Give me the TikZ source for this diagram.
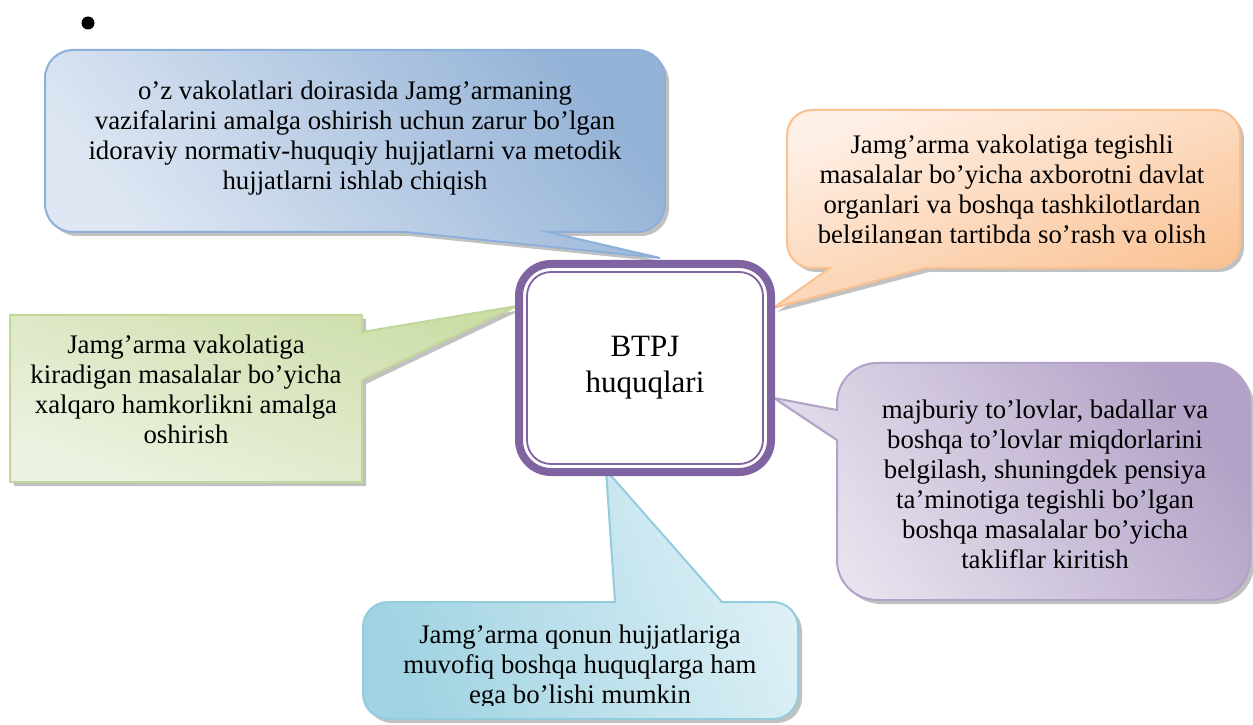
\documentclass[tikz,border=0pt]{standalone}
\usepackage{fontspec}
\setmainfont{Liberation Serif}
\definecolor{bluedark}{RGB}{149,179,215}
\definecolor{bluelight}{RGB}{222,231,243}
\definecolor{blueline}{RGB}{141,176,219}
\definecolor{orangedark}{RGB}{250,193,146}
\definecolor{orangelight}{RGB}{254,240,230}
\definecolor{orangeline}{RGB}{250,192,144}
\definecolor{greendark}{RGB}{204,221,168}
\definecolor{greenlight}{RGB}{236,242,224}
\definecolor{greenline}{RGB}{195,214,155}
\definecolor{purpdark}{RGB}{179,162,199}
\definecolor{purplight}{RGB}{232,227,239}
\definecolor{purpline}{RGB}{179,162,199}
\definecolor{cyandark}{RGB}{160,211,226}
\definecolor{cyanlight}{RGB}{222,240,246}
\definecolor{cyanline}{RGB}{147,205,221}
\definecolor{centerpurple}{RGB}{128,100,162}
% x1, ybottom, x2, ytop, radius, top tail, right tail, bottom tail, left tail
\newcommand\bubble[9]{(#1+#5,#4) #6 -- (#3-#5,#4) arc[start angle=90,end angle=0,radius=#5] #7 -- (#3,#2+#5) arc[start angle=0,end angle=-90,radius=#5] #8 -- (#1+#5,#2) arc[start angle=270,end angle=180,radius=#5] #9 -- (#1,#4-#5) arc[start angle=180,end angle=90,radius=#5] -- cycle}
\tikzset{
  shadowfill/.style={fill=black!70, opacity=0.35, shift={(4,-4)}},
  bubbletext/.style={inner sep=0pt, align=center, font=\fontsize{26.8}{30}\selectfont},
}
\begin{document}
\begin{tikzpicture}[x=1pt,y=1pt]
\useasboundingbox (0,0) rectangle (1253,724);
\node[circle, fill=black, inner sep=0pt, minimum size=13pt] (bullet) at (88,701) {};
% blue
\fill[shadowfill] \bubble{45}{492}{665}{674}{28}{}{}{-- (548,492) -- (660,466) -- (405,492)}{};
\shadedraw[draw=blueline, line width=2pt, top color=bluedark, bottom color=bluelight, shading angle=-50] \bubble{45}{492}{665}{674}{28}{}{}{-- (548,492) -- (660,466) -- (405,492)}{};
\node[bubbletext] (blue) at (355,586) {o’z vakolatlari doirasida Jamg’armaning\\vazifalarini amalga oshirish uchun zarur bo’lgan\\idoraviy normativ-huquqiy hujjatlarni va metodik\\hujjatlarni ishlab chiqish};
% orange
\fill[shadowfill] \bubble{787}{456}{1240}{614}{25}{}{}{-- (925,456) -- (773,416) -- (830,456)}{};
\shadedraw[draw=orangeline, line width=2pt, top color=orangelight, bottom color=orangedark, shading angle=20] \bubble{787}{456}{1240}{614}{25}{}{}{-- (925,456) -- (773,416) -- (830,456)}{};
\begin{scope}
\clip (787,481) rectangle (1240,614);
\node[bubbletext] (orange) at (1012,532) {Jamg’arma vakolatiga tegishli\\masalalar bo’yicha axborotni davlat\\organlari va boshqa tashkilotlardan\\belgilangan tartibda so’rash va olish};
\end{scope}
% green
\fill[shadowfill] \bubble{10}{242}{362}{409}{0.5}{}{-- (362,392) -- (517,418) -- (362,344)}{}{};
\shadedraw[draw=greenline, line width=2pt, top color=greendark, bottom color=greenlight, shading angle=-20] \bubble{10}{242}{362}{409}{0.5}{}{-- (362,392) -- (517,418) -- (362,344)}{}{};
\node[bubbletext] (green) at (186,335) {Jamg’arma vakolatiga\\kiradigan masalalar bo’yicha\\xalqaro hamkorlikni amalga\\oshirish};
% purple
\fill[shadowfill] \bubble{837}{124}{1250}{361}{40}{}{}{}{-- (837,284) -- (774,326) -- (837,314)};
\shadedraw[draw=purpline, line width=2pt, top color=purpdark, bottom color=purplight, shading angle=-55] \bubble{837}{124}{1250}{361}{40}{}{}{}{-- (837,284) -- (774,326) -- (837,314)};
\node[bubbletext] (purple) at (1045,240) {majburiy to’lovlar, badallar va\\boshqa to’lovlar miqdorlarini\\belgilash, shuningdek pensiya\\ta’minotiga tegishli bo’lgan\\boshqa masalalar bo’yicha\\takliflar kiritish};
% cyan
\fill[shadowfill] \bubble{363}{5}{798}{122}{25}{-- (615,122) -- (606,254) -- (722,122)}{}{}{};
\shadedraw[draw=cyanline, line width=2pt, left color=cyandark, right color=cyanlight, shading angle=110] \bubble{363}{5}{798}{122}{25}{-- (615,122) -- (606,254) -- (722,122)}{}{}{};
\begin{scope}
\clip (363,19) rectangle (798,122);
\node[bubbletext] (cyan) at (580,57) {Jamg’arma qonun hujjatlariga\\muvofiq boshqa huquqlarga ham\\ega bo’lishi mumkin};
\end{scope}
% central box
\draw[line width=8pt, draw=centerpurple, fill=white, rounded corners=32pt] (519,252) rectangle (771,460);
\draw[line width=1.8pt, draw=centerpurple, rounded corners=24pt] (527,260) rectangle (763,452);
\node[inner sep=0pt, align=center, font=\fontsize{31}{36}\selectfont] (center) at (645,356) {BTPJ\\huquqlari};
\end{tikzpicture}
\end{document}
